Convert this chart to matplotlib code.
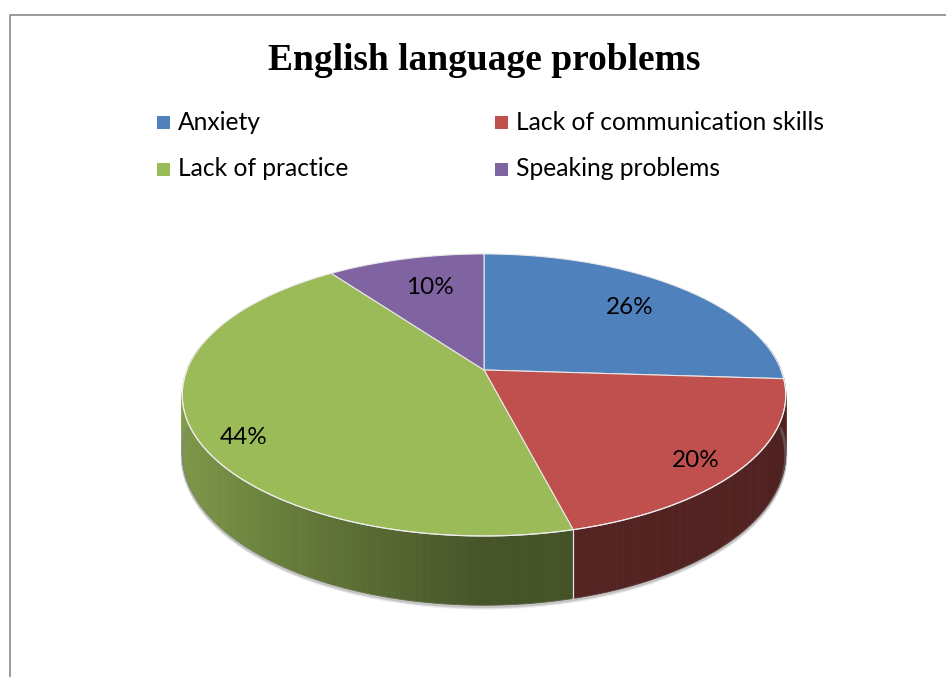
"""3D-style pie of English language problems, drawn with matplotlib polygons."""

import numpy as np
import matplotlib.pyplot as plt
from matplotlib.colors import to_rgb
from matplotlib.patches import Polygon, Rectangle
from matplotlib.collections import PolyCollection

# Data
CATEGORIES = ['Anxiety', 'Lack of communication skills', 'Lack of practice', 'Speaking problems']
PERCENTS = [26, 20, 44, 10]
COLORS = ['#4f81bd', '#c0504d', '#9bbb59', '#8064a2']
TITLE = 'English language problems'

# Geometry of the tilted disc (pixels)
CX, CY = 484, 370
A, B, P = 297, 136.6, 0.177
DEPTH = 57
# label nudges (pixels) for the projected label anchors
LABEL_SHIFT = [(0, 0), (30, 21), (-33, 23), (6, 2)]


def project(theta, r=1.0):
    """theta clockwise from 12 o'clock, r relative radius -> screen x, y"""
    u = r * np.sin(theta)
    v = r * np.cos(theta)
    d = 1 + P * v
    return CX + A * u / d, CY - B * v / d


def depth_at(theta):
    return DEPTH / (1 + P * np.cos(theta))


def shade(color, theta):
    # light falls from the left, front and right faces get darker
    rgb = np.array(to_rgb(color))
    s = np.sin(theta)
    f = 0.45 - 0.38 * s if s < 0 else 0.45 - 0.04 * s
    return tuple(rgb * f)


fig = plt.figure(figsize=(9.46, 6.77), dpi=100)
ax = fig.add_axes([0, 0, 1, 1])
ax.set_xlim(0, 946)
ax.set_ylim(677, 0)
ax.axis('off')

# chart frame
ax.plot([9.5, 9.5, 946], [677, 14.5, 14.5], color='#898989', lw=1.2)

fracs = np.array(PERCENTS) / sum(PERCENTS)
bounds = np.concatenate([[0], np.cumsum(fracs)]) * 2 * np.pi

# soft shadow under the bottom rim
th = np.linspace(np.pi / 2, 3 * np.pi / 2, 200)
sx, sy = project(th)
sy = sy + depth_at(th)
for off, a in [(3.0, 0.12), (2.0, 0.2), (1.0, 0.3)]:
    ax.plot(sx, sy + off, color='#808080', alpha=a, lw=2, solid_capstyle='round')

# side walls (front half only)
quads, qcols = [], []
for i, col in enumerate(COLORS):
    t0, t1 = bounds[i], bounds[i + 1]
    lo, hi = max(t0, np.pi / 2 - 0.2), min(t1, 3 * np.pi / 2 + 0.2)
    if hi <= lo:
        continue
    ts = np.linspace(lo, hi, max(2, int((hi - lo) / 0.01)))
    for a, b in zip(ts[:-1], ts[1:]):
        xa, ya = project(a)
        xb, yb = project(b)
        quads.append([(xa, ya), (xb, yb), (xb, yb + depth_at(b)), (xa, ya + depth_at(a))])
        qcols.append(shade(col, (a + b) / 2))
ax.add_collection(PolyCollection(quads, facecolors=qcols, edgecolors=qcols, linewidths=0.6))

# vertical seams on the side where slices meet
for t in bounds[1:-1]:
    if np.pi / 2 + 0.3 < t < 3 * np.pi / 2 - 0.3:
        x, y = project(t)
        ax.plot([x, x], [y, y + depth_at(t)], color='#e6e6e6', lw=0.9)

# top faces
for i, col in enumerate(COLORS):
    ts = np.linspace(bounds[i], bounds[i + 1], 200)
    xs, ys = project(ts)
    pts = [(CX, CY)] + list(zip(xs, ys))
    ax.add_patch(Polygon(pts, closed=True, facecolor=col, edgecolor='#e8e8e8', lw=0.8))

# rim highlight along the front edge
th = np.linspace(np.pi / 2, 3 * np.pi / 2, 200)
rx, ry = project(th)
ax.plot(rx, ry, color='#eeeeee', lw=0.8)

# percentage labels
mids = (bounds[:-1] + bounds[1:]) / 2
for i, pct in enumerate(PERCENTS):
    lx, ly = project(mids[i], 0.73)
    dx, dy = LABEL_SHIFT[i]
    ax.text(lx + dx, ly + dy, f'{pct}%', fontsize=17.5, family='Lato',
            ha='center', va='center', color='black')

# title
ax.text(484, 70, TITLE, fontsize=27, family='Liberation Serif', weight='bold',
        ha='center', va='baseline')

# legend, two columns
LEG_X = [157, 495]
LEG_Y = [122, 169]
for i, (name, col) in enumerate(zip(CATEGORIES, COLORS)):
    x, y = LEG_X[i % 2], LEG_Y[i // 2]
    ax.add_patch(Rectangle((x, y - 6.5), 13, 13, facecolor=col, edgecolor='none'))
    ax.text(x + 21, y + 7.5, name, fontsize=17.7, family='Lato', ha='left', va='baseline')

fig.savefig('out.png', dpi=100)
